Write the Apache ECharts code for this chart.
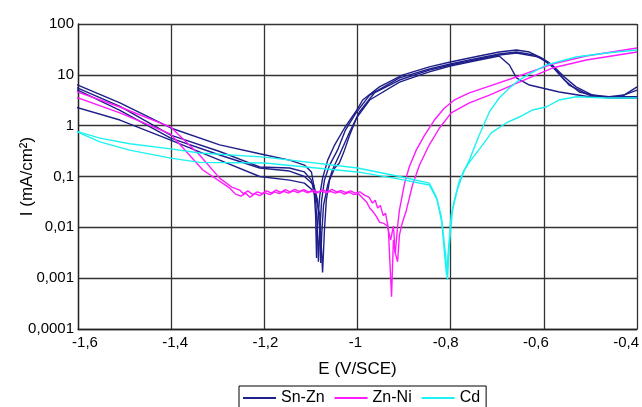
<!DOCTYPE html>
<html>
<head>
<meta charset="utf-8">
<script src="https://cdn.jsdelivr.net/npm/echarts@6/dist/echarts.min.js"></script>
<style>
html,body{margin:0;padding:0;background:#fff;}
#chart{width:642px;height:407px;}
</style>
</head>
<body>
<div id="chart"></div>
<script>
// ---- Data: [E (V/SCE), I (mA/cm2)] ----
var seriesNames = ['Sn-Zn', 'Zn-Ni', 'Cd'];
var xTickValues = [-1.6, -1.4, -1.2, -1.0, -0.8, -0.6, -0.4];
var xTickLabels = ['-1,6', '-1,4', '-1,2', '-1', '-0,8', '-0,6', '-0,4'];
var yTickLabels = ['0,0001', '0,001', '0,01', '0,1', '1', '10', '100'];

var snZnA = [[-1.606,6.6],[-1.510,2.8],[-1.401,0.90],[-1.296,0.42],[-1.210,0.28],[-1.146,0.21],[-1.114,0.168],[-1.099,0.123],[-1.094,0.068],[-1.090,0.0175],[-1.088,0.0025],[-1.086,0.011],[-1.081,0.043],[-1.075,0.093],[-1.064,0.21],[-1.049,0.42],[-1.028,0.90],[-1.002,2.0],[-0.989,3.2],[-0.953,5.8],[-0.904,9.9],[-0.846,14.3],[-0.801,17.9],[-0.739,23.5],[-0.696,28.1],[-0.659,30.8],[-0.631,28.1],[-0.604,21.4],[-0.582,15.6],[-0.556,9.1],[-0.531,5.8],[-0.496,4.0],[-0.460,3.7],[-0.428,4.0],[-0.400,5.8]];
var snZnB = [[-1.606,5.8],[-1.510,2.4],[-1.401,0.65],[-1.296,0.31],[-1.210,0.154],[-1.146,0.147],[-1.114,0.123],[-1.099,0.085],[-1.090,0.0345],[-1.086,0.0089],[-1.084,0.0021],[-1.081,0.0089],[-1.077,0.0345],[-1.071,0.085],[-1.060,0.168],[-1.043,0.33],[-1.026,0.82],[-1.002,1.86],[-0.974,4.0],[-0.910,8.7],[-0.846,13.0],[-0.801,16.3],[-0.739,21.4],[-0.696,25.7],[-0.659,28.1],[-0.621,24.5],[-0.589,17.1],[-0.556,7.9],[-0.524,4.6],[-0.481,3.7],[-0.439,3.7],[-0.400,5.0]];
var snZnC = [[-1.606,5.3],[-1.510,2.0],[-1.401,0.57],[-1.296,0.265],[-1.210,0.147],[-1.146,0.128],[-1.114,0.10],[-1.094,0.068],[-1.086,0.0345],[-1.081,0.0089],[-1.079,0.0020],[-1.077,0.0071],[-1.073,0.027],[-1.064,0.068],[-1.054,0.134],[-1.039,0.265],[-1.017,0.75],[-0.996,1.86],[-0.964,4.4],[-0.910,7.9],[-0.846,12.4],[-0.801,15.6],[-0.739,20.5],[-0.696,24.5],[-0.659,26.9],[-0.610,22.4],[-0.578,13.6],[-0.546,6.3],[-0.503,4.0],[-0.460,3.5],[-0.400,3.5]];
var snZnD = [[-1.606,2.33],[-1.510,1.29],[-1.401,0.52],[-1.296,0.21],[-1.210,0.10],[-1.146,0.085],[-1.114,0.074],[-1.092,0.0495],[-1.081,0.0175],[-1.075,0.0013],[-1.071,0.0089],[-1.067,0.0345],[-1.060,0.085],[-1.049,0.147],[-1.039,0.184],[-1.028,0.33],[-1.017,0.65],[-1.002,1.42],[-0.974,3.2],[-0.910,7.2],[-0.846,11.4],[-0.801,14.9],[-0.739,19.6],[-0.696,23.5],[-0.674,15.6],[-0.659,8.7],[-0.631,6.3],[-0.567,4.6],[-0.503,3.7],[-0.400,3.7]];

var znNiA = [[-1.606,4.8],[-1.510,2.33],[-1.401,0.94],[-1.339,0.265],[-1.296,0.093],[-1.270,0.062],[-1.253,0.054],[-1.245,0.046],[-1.235,0.052],[-1.225,0.044],[-1.215,0.050],[-1.205,0.046],[-1.195,0.052],[-1.185,0.047],[-1.175,0.054],[-1.165,0.049],[-1.155,0.055],[-1.145,0.050],[-1.135,0.056],[-1.125,0.051],[-1.115,0.055],[-1.105,0.050],[-1.095,0.054],[-1.085,0.049],[-1.075,0.055],[-1.065,0.050],[-1.055,0.056],[-1.045,0.050],[-1.035,0.053],[-1.025,0.048],[-1.015,0.052],[-1.005,0.047],[-0.995,0.050],[-0.985,0.043],[-0.975,0.039],[-0.968,0.030],[-0.962,0.034],[-0.957,0.024],[-0.951,0.027],[-0.945,0.017],[-0.940,0.019],[-0.934,0.0098],[-0.927,0.00043],[-0.923,0.0056],[-0.919,0.0031],[-0.914,0.0105],[-0.910,0.022],[-0.899,0.074],[-0.889,0.154],[-0.874,0.33],[-0.856,0.65],[-0.835,1.29],[-0.814,2.2],[-0.792,3.2],[-0.760,4.4],[-0.717,6.0],[-0.653,9.5],[-0.582,16.3],[-0.509,23.5],[-0.400,33.7]];
var znNiB = [[-1.606,3.7],[-1.510,1.78],[-1.401,0.68],[-1.332,0.134],[-1.274,0.059],[-1.262,0.045],[-1.250,0.041],[-1.240,0.047],[-1.231,0.039],[-1.220,0.046],[-1.210,0.042],[-1.199,0.048],[-1.188,0.044],[-1.178,0.050],[-1.168,0.046],[-1.158,0.051],[-1.148,0.047],[-1.138,0.052],[-1.128,0.048],[-1.118,0.053],[-1.108,0.048],[-1.098,0.051],[-1.088,0.047],[-1.078,0.052],[-1.068,0.048],[-1.058,0.051],[-1.048,0.047],[-1.038,0.050],[-1.028,0.045],[-1.018,0.049],[-1.008,0.044],[-0.998,0.046],[-0.988,0.037],[-0.980,0.031],[-0.974,0.024],[-0.966,0.020],[-0.959,0.016],[-0.953,0.0127],[-0.944,0.012],[-0.936,0.0106],[-0.929,0.0056],[-0.923,0.0106],[-0.919,0.0031],[-0.914,0.0021],[-0.910,0.0071],[-0.904,0.0122],[-0.895,0.022],[-0.882,0.068],[-0.867,0.168],[-0.846,0.42],[-0.824,0.90],[-0.799,1.78],[-0.760,2.8],[-0.717,4.0],[-0.653,7.2],[-0.582,13.6],[-0.509,19.6],[-0.400,28.1]];

var cdA = [[-1.606,0.79],[-1.553,0.57],[-1.489,0.44],[-1.401,0.35],[-1.339,0.29],[-1.199,0.24],[-1.000,0.147],[-0.910,0.10],[-0.846,0.074],[-0.831,0.040],[-0.820,0.016],[-0.814,0.0036],[-0.809,0.00115],[-0.805,0.0036],[-0.799,0.0175],[-0.792,0.0345],[-0.781,0.085],[-0.760,0.21],[-0.739,0.65],[-0.717,1.86],[-0.696,3.5],[-0.674,5.5],[-0.653,7.9],[-0.631,10.4],[-0.595,15.6],[-0.531,22.4],[-0.466,26.9],[-0.400,30.8]];
var cdB = [[-1.606,0.79],[-1.553,0.48],[-1.489,0.33],[-1.401,0.23],[-1.339,0.19],[-1.199,0.184],[-1.000,0.123],[-0.910,0.089],[-0.846,0.068],[-0.829,0.0345],[-0.818,0.011],[-0.811,0.0029],[-0.807,0.00092],[-0.803,0.0045],[-0.796,0.022],[-0.786,0.054],[-0.771,0.134],[-0.760,0.19],[-0.724,0.52],[-0.713,0.72],[-0.681,1.13],[-0.653,1.48],[-0.625,2.03],[-0.595,2.33],[-0.567,3.2],[-0.531,3.7],[-0.466,3.5],[-0.400,3.5]];

var curves = [
  {name: seriesNames[0], data: snZnA}, {name: seriesNames[0], data: snZnB},
  {name: seriesNames[0], data: snZnC}, {name: seriesNames[0], data: snZnD},
  {name: seriesNames[1], data: znNiA}, {name: seriesNames[1], data: znNiB},
  {name: seriesNames[2], data: cdA}, {name: seriesNames[2], data: cdB}
];
var colors = {'Sn-Zn': '#1f1f8a', 'Zn-Ni': '#ff1aff', 'Cd': '#1cf2f2'};

var chart = echarts.init(document.getElementById('chart'), null, {renderer: 'canvas'});
var font = 'Liberation Sans, Arial, sans-serif';
chart.setOption({
  animation: false,
  backgroundColor: '#ffffff',
  textStyle: {fontFamily: font},
  grid: {left: 78, right: 4, top: 24, bottom: 78, containLabel: false},
  legend: {
    data: seriesNames,
    left: 239, top: 386,
    orient: 'horizontal',
    borderColor: '#000', borderWidth: 1,
    padding: [4, 6, 4, 4],
    itemGap: 10,
    itemWidth: 33, itemHeight: 2,
    icon: 'rect',
    textStyle: {fontFamily: font, fontSize: 16, color: '#000'}
  },
  xAxis: [{
    type: 'value', min: -1.6, max: -0.4, interval: 0.2,
    name: 'E (V/SCE)', nameLocation: 'middle', nameGap: 32, nameMoveOverlap: false,
    nameTextStyle: {fontFamily: font, fontSize: 17, color: '#000'},
    axisLine: {show: true, onZero: false, lineStyle: {color: '#222', width: 1.3}},
    axisTick: {show: false},
    axisLabel: {show: false},
    splitLine: {show: true, lineStyle: {color: '#333', width: 1.3}}
  }, {
    // label-only axis: the reference prints its tick labels on a slightly narrower span
    type: 'value', position: 'bottom', min: -1.6155, max: -0.3756,
    axisLine: {show: false}, axisTick: {show: false}, splitLine: {show: false},
    axisLabel: {
      show: true, customValues: xTickValues,
      fontFamily: font, fontSize: 15, color: '#000', margin: 6,
      formatter: function (v) {
        var i = xTickValues.findIndex(function (t) { return Math.abs(t - v) < 1e-6; });
        return i >= 0 ? xTickLabels[i] : '';
      }
    }
  }],
  yAxis: {
    type: 'log', logBase: 10, min: 0.0001, max: 100,
    name: 'I (mA/cm²)', nameLocation: 'middle', nameGap: 42, nameRotate: 90, nameMoveOverlap: false,
    nameTextStyle: {fontFamily: font, fontSize: 17, color: '#000'},
    axisLine: {show: true, onZero: false, lineStyle: {color: '#222', width: 1.3}},
    axisTick: {show: false},
    axisLabel: {
      fontFamily: font, fontSize: 15, color: '#000', margin: 4,
      formatter: function (v) { return yTickLabels[Math.round(Math.log10(v)) + 4]; }
    },
    splitLine: {show: true, lineStyle: {color: '#333', width: 1.3}}
  },
  series: curves.map(function (c) {
    return {
      type: 'line', name: c.name, data: c.data, xAxisIndex: 0,
      symbol: 'none', smooth: false,
      color: colors[c.name],
      lineStyle: {color: colors[c.name], width: 1.4}
    };
  })
});
</script>
</body>
</html>
